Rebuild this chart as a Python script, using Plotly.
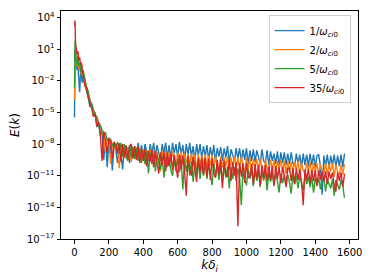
import plotly.graph_objects as go

# wavenumber k*delta_i sample positions
k_early = [0, 3, 6, 10, 15, 20, 25, 30, 35, 40, 45]
k_main = list(range(50, 1571, 10))
k_vals = k_early + k_main

# log10 E(k)
logE_1 = [-5.5, 1.0, 0.2, -0.3, -1.0, -0.6, -1.5, -3.1, -1.4, -1.2, -2.2,
    -1.5, -2.4, -3.0, -3.6, -4.5, -4.2, -5.3, -5.0, -6.4, -6.0,
    -7.2, -6.6, -9.5, -7.4, -10.2, -7.8, -8.3, -10.5, -8.0, -8.6,
    -9.8, -8.2, -9.0, -10.4, -8.1, -9.3, -8.3, -9.8, -8.0, -9.1,
    -8.2, -9.4, -7.9, -9.0, -8.1, -9.5, -8.0, -8.7, -9.6, -8.0,
    -8.9, -7.9, -9.2, -8.1, -8.8, -9.6, -8.0, -8.9, -7.9, -9.3,
    -8.1, -9.4, -7.9, -8.9, -8.0, -9.3, -7.8, -9.0, -8.1, -9.5,
    -8.0, -9.0, -7.9, -9.2, -8.2, -9.6, -8.0, -9.1, -8.0, -9.4,
    -8.2, -9.2, -8.1, -9.5, -8.3, -9.3, -8.1, -9.7, -8.4, -9.2,
    -8.3, -9.6, -8.4, -9.3, -8.2, -9.8, -8.5, -9.0, -9.6, -8.4,
    -9.4, -8.4, -9.7, -8.5, -9.5, -8.4, -9.9, -8.6, -9.6, -8.5,
    -9.7, -8.6, -9.4, -9.9, -8.5, -9.6, -9.8, -8.6, -10.0, -8.7,
    -9.6, -8.9, -9.9, -8.7, -10.1, -8.8, -9.8, -8.8, -10.0, -8.9,
    -9.9, -8.8, -9.8, -10.1, -8.9, -9.9, -9.0, -10.2, -8.9, -10.0,
    -9.0, -10.1, -8.9, -10.0, -9.0, -10.2, -9.1, -9.0, -10.1, -12.8,
    -9.1, -10.1, -9.0, -10.3, -9.1, -10.0, -9.0, -10.2, -9.1, -10.1,
    -9.0, -10.2, -8.9]

logE_2 = [-3.8, 0.3, 0.6, -0.3, -0.6, -0.1, -0.9, -0.5, -1.3, -0.8, -1.6,
    -1.3, -2.2, -2.8, -3.3, -4.0, -4.4, -4.8, -5.2, -5.6, -6.1,
    -6.5, -6.9, -7.3, -8.8, -7.5, -7.8, -9.9, -7.9, -8.2, -8.6,
    -8.3, -10.3, -8.2, -9.2, -8.1, -9.4, -8.3, -9.1, -9.7, -8.4,
    -9.2, -8.3, -9.5, -8.4, -9.3, -8.5, -9.8, -8.6, -9.4, -8.5,
    -9.5, -8.6, -9.7, -8.7, -9.6, -10.6, -8.7, -9.6, -8.6, -9.8,
    -8.8, -9.8, -8.7, -9.7, -10.4, -8.8, -9.9, -8.7, -9.9, -8.9,
    -9.8, -9.0, -9.9, -8.9, -10.1, -9.0, -10.6, -9.0, -10.0, -9.1,
    -10.0, -9.0, -10.2, -9.1, -10.0, -9.0, -10.3, -9.2, -10.1, -10.6,
    -9.2, -10.2, -9.3, -10.1, -9.2, -10.4, -9.3, -10.2, -9.2, -10.3,
    -9.3, -10.3, -9.2, -10.2, -10.7, -9.3, -10.4, -9.3, -10.5, -9.4,
    -10.3, -9.4, -10.5, -9.4, -10.4, -11.5, -9.5, -10.3, -10.6, -9.5,
    -10.5, -9.5, -10.7, -9.6, -10.4, -9.5, -10.6, -9.6, -10.8, -9.6,
    -10.6, -9.7, -10.7, -9.7, -10.5, -9.6, -10.9, -9.8, -10.5, -10.8,
    -9.8, -10.6, -9.7, -10.9, -9.8, -10.7, -9.8, -11.0, -9.9, -10.6,
    -10.8, -9.8, -10.9, -9.9, -10.6, -9.8, -11.1, -9.9, -10.7, -10.9,
    -10.0, -10.9, -9.9]

logE_5 = [-2.7, 1.8, 1.2, 0.0, -0.5, 0.4, -0.6, -0.3, -1.2, -0.5, -1.4,
    -1.0, -1.8, -2.6, -3.0, -3.9, -4.2, -4.7, -5.3, -5.4, -6.0,
    -6.2, -6.7, -7.2, -6.9, -7.6, -7.8, -7.5, -8.2, -7.9, -8.4,
    -7.8, -8.9, -7.9, -9.2, -8.0, -9.1, -9.6, -8.2, -9.3, -8.3,
    -9.4, -8.4, -9.6, -8.5, -9.8, -8.6, -9.9, -8.7, -10.8, -8.8,
    -9.9, -8.9, -10.6, -9.0, -9.8, -10.4, -9.1, -11.2, -9.2, -10.2,
    -9.3, -10.5, -11.0, -9.3, -10.6, -9.4, -10.7, -9.4, -12.3, -9.5,
    -10.6, -9.5, -11.0, -9.6, -11.6, -9.6, -10.8, -9.7, -11.3, -9.8,
    -11.0, -9.8, -11.3, -9.9, -10.9, -11.9, -9.9, -11.1, -10.0, -11.4,
    -10.0, -11.6, -10.1, -11.2, -10.1, -12.2, -10.2, -11.3, -10.2, -11.5,
    -10.3, -11.2, -13.8, -10.3, -11.4, -11.9, -10.4, -11.3, -10.4, -12.0,
    -10.5, -11.5, -10.5, -12.1, -10.6, -11.4, -10.6, -12.4, -10.7, -11.6,
    -10.7, -11.9, -10.8, -11.5, -12.6, -10.8, -11.7, -10.9, -12.0, -10.9,
    -11.6, -12.7, -10.9, -11.8, -11.0, -12.2, -11.0, -11.7, -12.4, -11.0,
    -11.8, -11.1, -12.1, -11.1, -12.6, -11.2, -11.9, -11.2, -12.3, -11.3,
    -11.2, -12.5, -11.3, -11.8, -12.2, -11.3, -12.9, -11.4, -11.9, -12.3,
    -11.4, -12.0, -13.1]

logE_35 = [3.2, 3.7, 1.5, 1.0, 0.5, 0.8, -0.1, 0.2, -0.5, -0.3, -1.0,
    -1.5, -2.5, -2.6, -3.6, -4.1, -4.6, -5.4, -5.2, -6.3, -5.9,
    -7.0, -9.6, -6.8, -7.6, -8.9, -7.4, -7.9, -9.4, -7.8, -8.1,
    -8.9, -7.9, -9.7, -8.0, -9.3, -8.1, -9.5, -8.2, -8.0, -9.4,
    -8.2, -9.5, -8.3, -9.8, -8.4, -9.6, -8.5, -10.1, -8.6, -9.7,
    -8.6, -10.2, -8.7, -9.9, -10.8, -8.8, -10.0, -8.8, -10.6, -8.9,
    -10.1, -8.9, -10.5, -9.0, -10.3, -11.2, -9.0, -10.4, -9.1, -10.6,
    -12.9, -9.1, -10.4, -11.0, -9.2, -10.6, -11.6, -9.3, -10.7, -9.3,
    -10.9, -9.3, -11.1, -9.4, -11.4, -9.4, -10.8, -11.2, -9.5, -10.9,
    -9.5, -12.2, -9.6, -10.9, -11.1, -9.6, -11.5, -9.7, -11.0, -9.7,
    -15.8, -9.8, -11.1, -9.8, -11.7, -9.8, -11.2, -11.0, -9.9, -11.8,
    -9.9, -11.3, -10.0, -11.9, -10.0, -11.2, -10.0, -11.5, -10.1, -11.4,
    -10.1, -12.0, -10.1, -11.3, -10.2, -11.7, -10.2, -10.9, -12.1, -10.3,
    -10.3, -11.5, -10.3, -11.8, -10.3, -11.4, -10.4, -11.6, -13.8, -10.4,
    -11.4, -10.4, -11.7, -10.5, -11.5, -10.5, -12.0, -10.5, -11.4, -10.6,
    -11.6, -10.6, -11.8, -10.6, -11.3, -10.7, -11.9, -12.5, -10.7, -11.5,
    -10.7, -12.1, -10.8]

series = [
    ("1/<i>ω</i><sub><i>ci</i>0</sub>", logE_1, "#1f77b4"),
    ("2/<i>ω</i><sub><i>ci</i>0</sub>", logE_2, "#ff7f0e"),
    ("5/<i>ω</i><sub><i>ci</i>0</sub>", logE_5, "#2ca02c"),
    ("35/<i>ω</i><sub><i>ci</i>0</sub>", logE_35, "#d62728"),
]

y_tick_exps = [4, 1, -2, -5, -8, -11, -14, -17]
x_ticks = [0, 200, 400, 600, 800, 1000, 1200, 1400, 1600]

fig = go.Figure()
for name, vals, color in series:
    fig.add_trace(go.Scatter(
        x=k_vals, y=[10 ** v for v in vals], mode="lines", name=name,
        line=dict(color=color, width=1.4)))

# the page body adds an 8px offset; the figure is sized to fill the rest
fig.update_layout(
    width=366, height=272,
    margin=dict(l=53, r=16, t=3, b=41),
    paper_bgcolor="white", plot_bgcolor="white",
    font=dict(family="DejaVu Sans", size=10, color="black"),
    showlegend=True,
    legend=dict(x=0.975, y=0.982, xanchor="right", yanchor="top",
                bgcolor="rgba(255,255,255,0.8)", bordercolor="#cccccc",
                borderwidth=1, font=dict(size=10), tracegroupgap=0,
                itemwidth=30),
)
fig.update_xaxes(
    range=[-78.5, 1648.5], tickvals=x_ticks, automargin=False,
    showgrid=False, zeroline=False, showline=True, linecolor="black",
    linewidth=1, mirror=True, ticks="outside", ticklen=3.5, tickcolor="black",
    title=dict(text="<i>kδ</i><sub><i>i</i></sub>", standoff=4))
fig.update_yaxes(
    type="log", range=[-17, 4.6], automargin=False,
    tickvals=[10 ** e for e in y_tick_exps],
    ticktext=["10<sup>%s</sup>" % (str(e).replace("-", "−")) for e in y_tick_exps],
    showgrid=False, zeroline=False, showline=True, linecolor="black",
    linewidth=1, mirror=True, ticks="outside", ticklen=3.5, tickcolor="black",
    title=dict(text="<i>E</i>(<i>k</i>)", standoff=4))

fig.write_html("out.html")
